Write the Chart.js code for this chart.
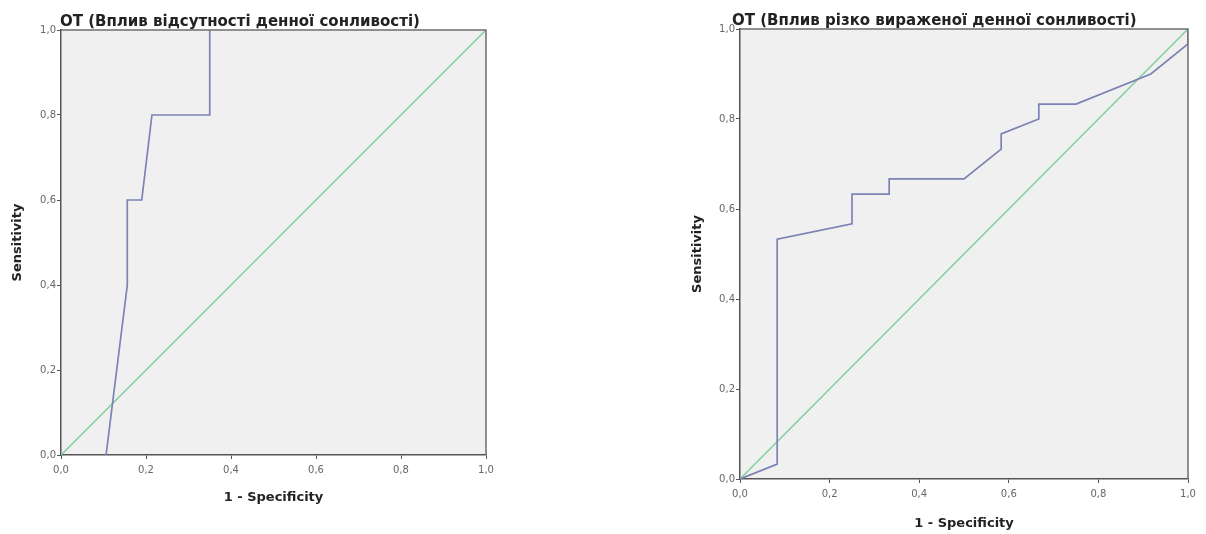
<!DOCTYPE html>
<html>
<head>
<meta charset="utf-8">
<script src="https://cdn.jsdelivr.net/npm/chart.js@4/dist/chart.umd.min.js"></script>
<style>
  html, body { margin: 0; padding: 0; background: #fff; }
  .box { position: absolute; top: 0; height: 534px; }
  #boxLeft { left: 0; width: 600px; }
  #boxRight { left: 610px; width: 596px; }
</style>
</head>
<body>
<div class="box" id="boxLeft"><canvas id="rocLeft"></canvas></div>
<div class="box" id="boxRight"><canvas id="rocRight"></canvas></div>
<script>
// ROC curve points (1 - specificity, sensitivity)
const titleLeft = "ОТ (Вплив відсутності денної сонливості)";
const fprLeft = [0.106, 0.156, 0.156, 0.19, 0.214, 0.35, 0.35];
const tprLeft = [0, 0.4, 0.6, 0.6, 0.8, 0.8, 1.0];

const titleRight = "ОТ (Вплив різко вираженої денної сонливості)";
const fprRight = [0, 0.083, 0.083, 0.25, 0.25, 0.333, 0.333, 0.5, 0.583, 0.583, 0.667, 0.667, 0.75, 0.917, 1.0, 1.0];
const tprRight = [0, 0.033, 0.533, 0.567, 0.633, 0.633, 0.667, 0.667, 0.733, 0.767, 0.8, 0.833, 0.833, 0.9, 0.967, 1.0];

// reference diagonal
const diagX = [0, 1];
const diagY = [0, 1];

const axisTicks = [0, 0.2, 0.4, 0.6, 0.8, 1.0];
const xTitle = "1 - Specificity";
const yTitle = "Sensitivity";

const FONT = "'DejaVu Sans', 'Liberation Sans', Arial, sans-serif";

const toPoints = (xs, ys) => xs.map((x, i) => ({ x: x, y: ys[i] }));
const fmt = v => v.toFixed(1).replace(".", ",");

// grey plot background, frame and the title above the plot
const plotFrame = {
  id: "plotFrame",
  beforeDraw(chart) {
    const a = chart.chartArea;
    const c = chart.ctx;
    c.save();
    c.fillStyle = "#f0f0f0";
    c.fillRect(a.left, a.top, a.right - a.left, a.bottom - a.top);
    c.restore();
  },
  afterDraw(chart, args, opts) {
    const a = chart.chartArea;
    const c = chart.ctx;
    c.save();
    c.strokeStyle = "#6e6e6e";
    c.lineWidth = 1.5;
    c.beginPath();
    c.moveTo(a.left, a.top);
    c.lineTo(a.right, a.top);
    c.lineTo(a.right, a.bottom);
    c.stroke();
    c.fillStyle = "#222";
    c.font = "bold 15px " + FONT;
    c.textBaseline = "alphabetic";
    c.fillText(opts.text, a.left + opts.dx, a.top - 4);
    c.restore();
  }
};

function makeRoc(id, title, xs, ys, pad, yWidth, xHeight, titleDx) {
  const axis = (label, isX) => ({
    type: "linear",
    min: 0,
    max: 1,
    afterBuildTicks: s => { s.ticks = axisTicks.map(v => ({ value: v })); },
    afterFit: s => { if (isX) s.height = xHeight; else s.width = yWidth; },
    ticks: {
      callback: v => fmt(v),
      color: "#666",
      font: { family: FONT, size: 10 },
      padding: isX ? 5 : 1,
      maxRotation: 0
    },
    grid: { drawOnChartArea: false, drawTicks: true, tickLength: 4, color: "#555", lineWidth: 1 },
    border: { display: true, color: "#555", width: 1.5 },
    title: {
      display: true,
      text: label,
      color: "#222",
      font: { family: FONT, size: 13, weight: "bold" },
      padding: 0
    }
  });

  return new Chart(document.getElementById(id), {
    type: "scatter",
    data: {
      datasets: [
        {
          data: toPoints(diagX, diagY),
          showLine: true,
          borderColor: "#7fcf9c",
          borderWidth: 1.5,
          pointRadius: 0,
          order: 2
        },
        {
          data: toPoints(xs, ys),
          showLine: true,
          borderColor: "#7c83b4",
          borderWidth: 1.7,
          pointRadius: 0,
          order: 1
        }
      ]
    },
    options: {
      responsive: true,
      maintainAspectRatio: false,
      animation: false,
      layout: { padding: pad },
      plugins: {
        legend: { display: false },
        tooltip: { enabled: false },
        plotFrame: { text: title, dx: titleDx }
      },
      scales: {
        x: axis(xTitle, true),
        y: axis(yTitle, false)
      }
    },
    plugins: [plotFrame]
  });
}

makeRoc("rocLeft", titleLeft, fprLeft, tprLeft, { left: 10, right: 114, top: 30, bottom: 29 }, 51, 50, -1);
makeRoc("rocRight", titleRight, fprRight, tprRight, { left: 80, right: 18, top: 29, bottom: 3 }, 50, 52, -8);
</script>
</body>
</html>
